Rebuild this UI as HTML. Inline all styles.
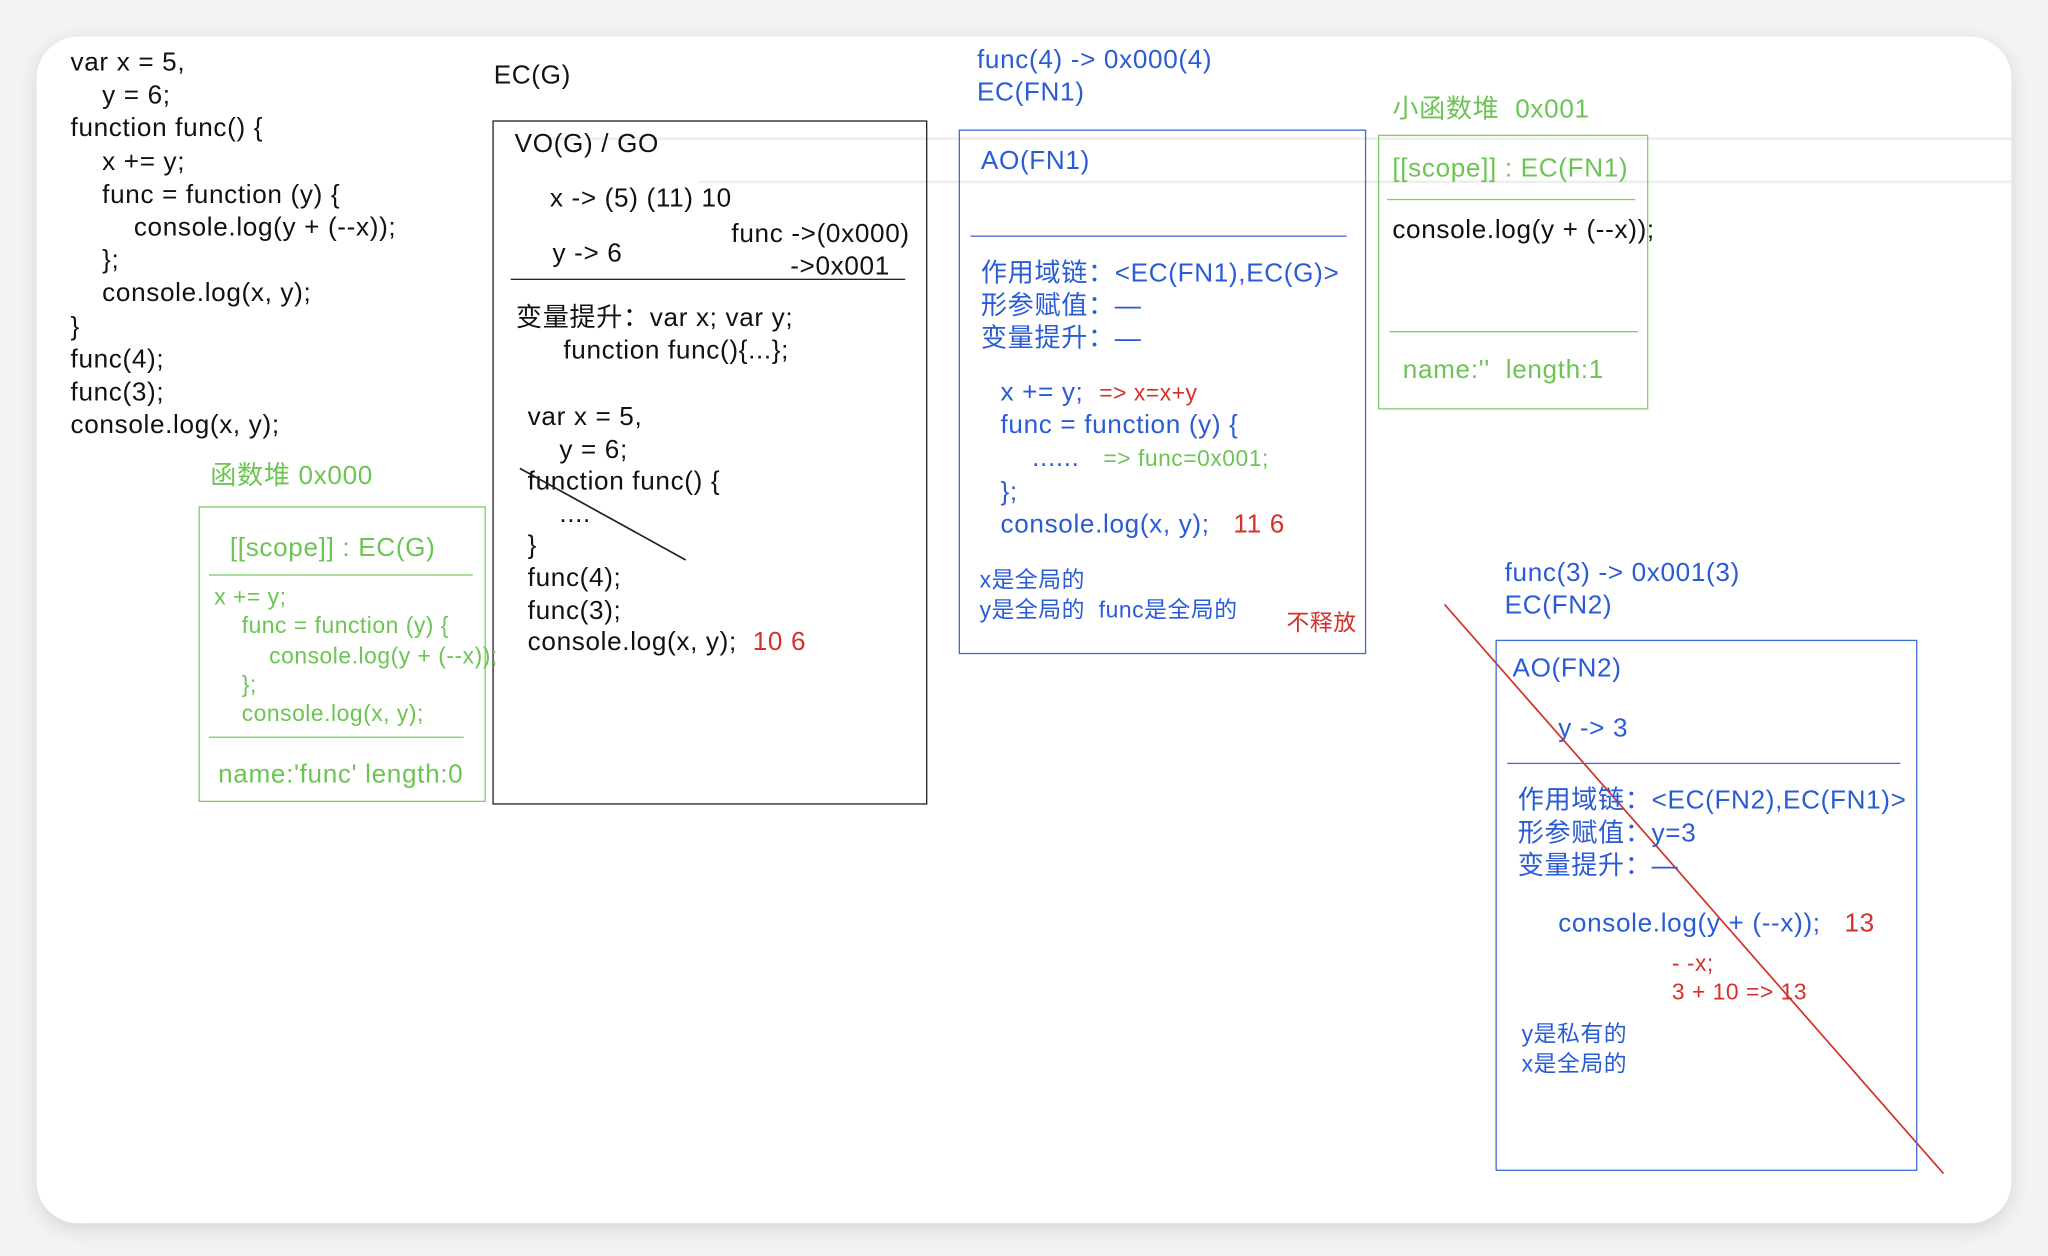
<!DOCTYPE html>
<html><head><meta charset="utf-8"><style>
html,body{margin:0;padding:0;width:2048px;height:1256px;overflow:hidden;background:#f3f3f3}
#w{position:absolute;left:0;top:0;width:1568px;height:960px;transform:scale(1.30612,1.30833);transform-origin:0 0;font-family:"Liberation Sans","Noto Sans CJK SC",sans-serif}
#card{position:absolute;left:28px;top:28px;width:1512px;height:907px;background:#fff;border-radius:32px;box-shadow:0 4px 16px rgba(0,0,0,.12)}
.t{position:absolute;white-space:pre;font-size:20px;letter-spacing:.5px;line-height:25.2px;color:#111}
.s{font-size:17.5px;letter-spacing:.4px}
.b{color:#2a5bd7}.g{color:#6cc552}.r{color:#d3312a}
.box{position:absolute;box-sizing:border-box}
.hl{position:absolute;height:0}
</style></head><body><div id="w">
<div id="card"></div>
<div class="hl" style="left:420px;top:105px;width:1120px;border-top:2px solid #eee"></div>
<div class="hl" style="left:535px;top:138px;width:1005px;border-top:2px solid #eee"></div>

<div class="t" style="left:54px;top:36px">var x = 5,
    y = 6;
function func() {
    x += y;
    func = function (y) {
        console.log(y + (--x));
    };
    console.log(x, y);
}
func(4);
func(3);
console.log(x, y);</div>

<div class="t" style="left:378px;top:46px">EC(G)</div>
<div class="box" style="left:377px;top:92px;width:333px;height:523px;border:1.5px solid #222"></div>
<div class="t" style="left:394px;top:98px">VO(G) / GO</div>
<div class="t" style="left:421px;top:140px">x -> (5) (11) 10</div>
<div class="t" style="left:423px;top:182px">y -> 6</div>
<div class="t" style="left:560px;top:167px">func ->(0x000)</div>
<div class="t" style="left:605px;top:192px">->0x001</div>
<div class="hl" style="left:391px;top:213px;width:302px;border-top:1.5px solid #222"></div>
<div class="t" style="left:395px;top:231px">变量提升：var x; var y;
      function func(){...};</div>
<div class="t" style="left:404px;top:307px;line-height:24.6px">var x = 5,
    y = 6;
function func() {
    ....
}
func(4);
func(3);
console.log(x, y);  <span class="r">10 6</span></div>
<svg style="position:absolute;left:0;top:0" width="1568" height="960">
<line x1="398" y1="358" x2="525" y2="428" stroke="#222" stroke-width="1.3"/>
<line x1="1106" y1="462" x2="1488" y2="897" stroke="#d3312a" stroke-width="1.3"/>
</svg>

<div class="t g" style="left:161px;top:352px">函数堆 0x000</div>
<div class="box" style="left:152px;top:387px;width:220px;height:226px;border:1.5px solid #7fcf68"></div>
<div class="t g" style="left:176px;top:407px">[[scope]] : EC(G)</div>
<div class="hl" style="left:160px;top:439px;width:202px;border-top:1.5px solid #7fcf68"></div>
<div class="t g s" style="left:164px;top:445px;line-height:22.3px">x += y;
    func = function (y) {
        console.log(y + (--x));
    };
    console.log(x, y);</div>
<div class="hl" style="left:160px;top:563px;width:195px;border-top:1.5px solid #7fcf68"></div>
<div class="t g" style="left:167px;top:580px">name:'func' length:0</div>

<div class="t b" style="left:748px;top:34px">func(4) -> 0x000(4)
EC(FN1)</div>
<div class="box" style="left:734px;top:99px;width:312px;height:401px;border:1.5px solid #3f6bd8"></div>
<div class="t b" style="left:751px;top:111px">AO(FN1)</div>
<div class="hl" style="left:743px;top:180px;width:288px;border-top:1.5px solid #3f6bd8"></div>
<div class="t b" style="left:751px;top:197px">作用域链：&lt;EC(FN1),EC(G)&gt;
形参赋值：—
变量提升：—</div>
<div class="t b" style="left:766px;top:288px">x += y;  <span class="r s">=> x=x+y</span>
func = function (y) {
    ......   <span class="g s">=> func=0x001;</span>
};
console.log(x, y);   <span class="r">11 6</span></div>
<div class="t b s" style="left:750px;top:432px;line-height:23px">x是全局的
y是全局的  func是全局的</div>
<div class="t r s" style="left:985px;top:464px">不释放</div>

<div class="t g" style="left:1066px;top:72px">小函数堆  0x001</div>
<div class="box" style="left:1055px;top:103px;width:207px;height:210px;border:1.5px solid #7fcf68"></div>
<div class="t g" style="left:1066px;top:117px">[[scope]] : EC(FN1)</div>
<div class="hl" style="left:1062px;top:152px;width:190px;border-top:1.5px solid #7fcf68"></div>
<div class="t" style="left:1066px;top:164px">console.log(y + (--x));</div>
<div class="hl" style="left:1064px;top:253px;width:190px;border-top:1.5px solid #7fcf68"></div>
<div class="t g" style="left:1074px;top:271px">name:''  length:1</div>

<div class="t b" style="left:1152px;top:426px">func(3) -> 0x001(3)
EC(FN2)</div>
<div class="box" style="left:1145px;top:489px;width:323px;height:406px;border:1.5px solid #3f6bd8"></div>
<div class="t b" style="left:1158px;top:499px">AO(FN2)</div>
<div class="t b" style="left:1193px;top:545px">y -> 3</div>
<div class="hl" style="left:1154px;top:583px;width:301px;border-top:1.5px solid #3f6bd8"></div>
<div class="t b" style="left:1162px;top:600px">作用域链：&lt;EC(FN2),EC(FN1)&gt;
形参赋值：y=3
变量提升：—</div>
<div class="t b" style="left:1193px;top:694px">console.log(y + (--x));   <span class="r">13</span></div>
<div class="t r s" style="left:1280px;top:725px;line-height:22px">- -x;
3 + 10 => 13</div>
<div class="t b s" style="left:1165px;top:779px;line-height:23px">y是私有的
x是全局的</div>
</div></body></html>
